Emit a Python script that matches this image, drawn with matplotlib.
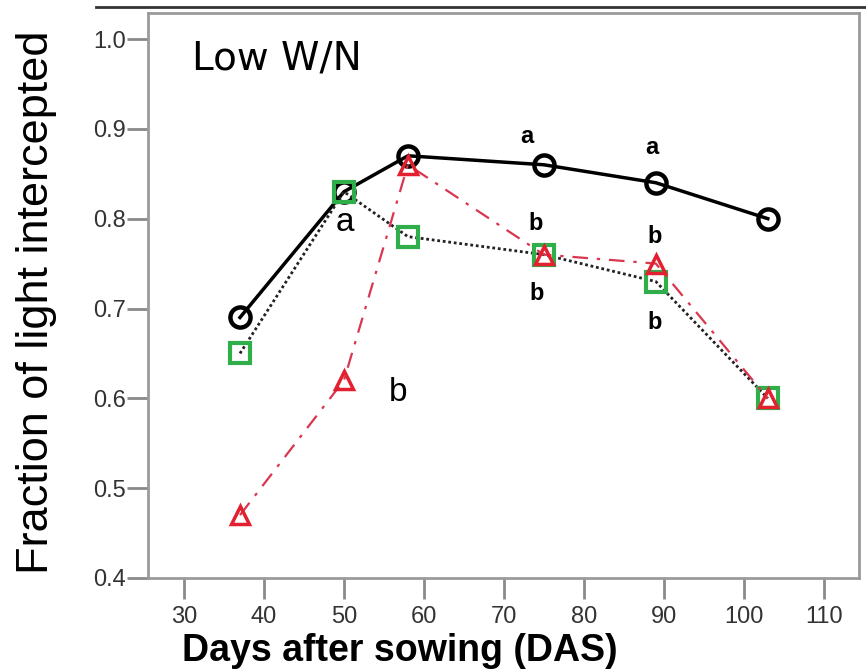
"""Fraction of light intercepted vs days after sowing (Low W/N)."""

import matplotlib

matplotlib.use("Agg")
import matplotlib.pyplot as plt
from matplotlib import font_manager
from matplotlib.lines import Line2D

DAS = [37, 50, 58, 75, 89, 103]
CIRCLE_SERIES = [0.69, 0.83, 0.87, 0.86, 0.84, 0.80]
SQUARE_SERIES = [0.65, 0.83, 0.78, 0.76, 0.73, 0.60]
TRIANGLE_SERIES = [0.47, 0.62, 0.86, 0.76, 0.75, 0.60]

X_TICKS = [30, 40, 50, 60, 70, 80, 90, 100, 110]
Y_TICKS = [0.4, 0.5, 0.6, 0.7, 0.8, 0.9, 1.0]

# letter, x, y, bold
LETTERS = [
    ("a", 50.1, 0.796, False),
    ("b", 56.8, 0.607, False),
    ("a", 72.9, 0.891, True),
    ("a", 88.5, 0.879, True),
    ("b", 74.0, 0.795, True),
    ("b", 74.1, 0.717, True),
    ("b", 88.9, 0.780, True),
    ("b", 88.9, 0.684, True),
]


def has_font(name: str) -> bool:
    try:
        font_manager.findfont(name, fallback_to_default=False)
        return True
    except ValueError:
        return False


narrow = has_font("Liberation Sans Narrow")

plt.rcParams["font.family"] = ["Liberation Sans", "DejaVu Sans"]

fig = plt.figure(figsize=(8.66, 6.72), dpi=100)
ax = fig.add_axes([0.1709, 0.1399, 0.821, 0.8408])

ax.plot(DAS, CIRCLE_SERIES, color="black", lw=2.5, marker="o", ms=14.5,
        mfc="none", mec="black", mew=3.2, zorder=3)
ax.plot(DAS, SQUARE_SERIES, color="#222222", lw=2, ls=(0, (1, 1)), marker="s",
        ms=15, mfc="none", mec="#2fae4a", mew=3, zorder=4)
ax.plot(DAS, TRIANGLE_SERIES, color="#d9364f", lw=1.6, ls=(0, (7, 4, 1.5, 4)),
        marker="^", ms=13, mfc="none", mec="#e3202f", mew=2.5, zorder=5)

for letter, x, y, bold in LETTERS:
    ax.text(x, y, letter, ha="center", va="center",
            fontsize=17 if bold else 24,
            fontweight="bold" if bold else "normal", zorder=6)

ax.text(0.062, 0.90, "Low W/N", transform=ax.transAxes, fontsize=28,
        family=["DejaVu Sans"], ha="left", va="baseline")

ax.set_xlim(25.5, 114.4)
ax.set_ylim(0.4, 1.029)
ax.set_xticks(X_TICKS)
ax.set_yticks(Y_TICKS)
ax.set_xticklabels([str(v) for v in X_TICKS])
ax.set_yticklabels([f"{v:.1f}" for v in Y_TICKS])
ax.tick_params(direction="out", length=15, width=2, color="#8a8a8a",
               labelsize=17, labelcolor="#333333")
ax.tick_params(axis="y", pad=1)
ax.tick_params(axis="x", pad=5)

for spine in ax.spines.values():
    spine.set_color("#9a9a9a")
    spine.set_linewidth(2)

if narrow:
    fig.text(37 / 866, 1 - 302 / 672, "Fraction of light intercepted",
             rotation=90, ha="center", va="center", fontsize=39,
             family=["Liberation Sans Narrow", "DejaVu Sans"])
else:
    fig.text(37 / 866, 1 - 302 / 672, "Fraction of light intercepted",
             rotation=90, ha="center", va="center", fontsize=32.5)

fig.text(400 / 866, 0.004, "Days after sowing (DAS)", ha="center",
         va="bottom", fontsize=27, fontweight="bold")

# dark border line across the top of the figure
fig.add_artist(Line2D([96 / 866, 1.0], [1 - 7 / 672, 1 - 7 / 672],
                      color="#333333", lw=2))

fig.savefig("out.png", dpi=100)
